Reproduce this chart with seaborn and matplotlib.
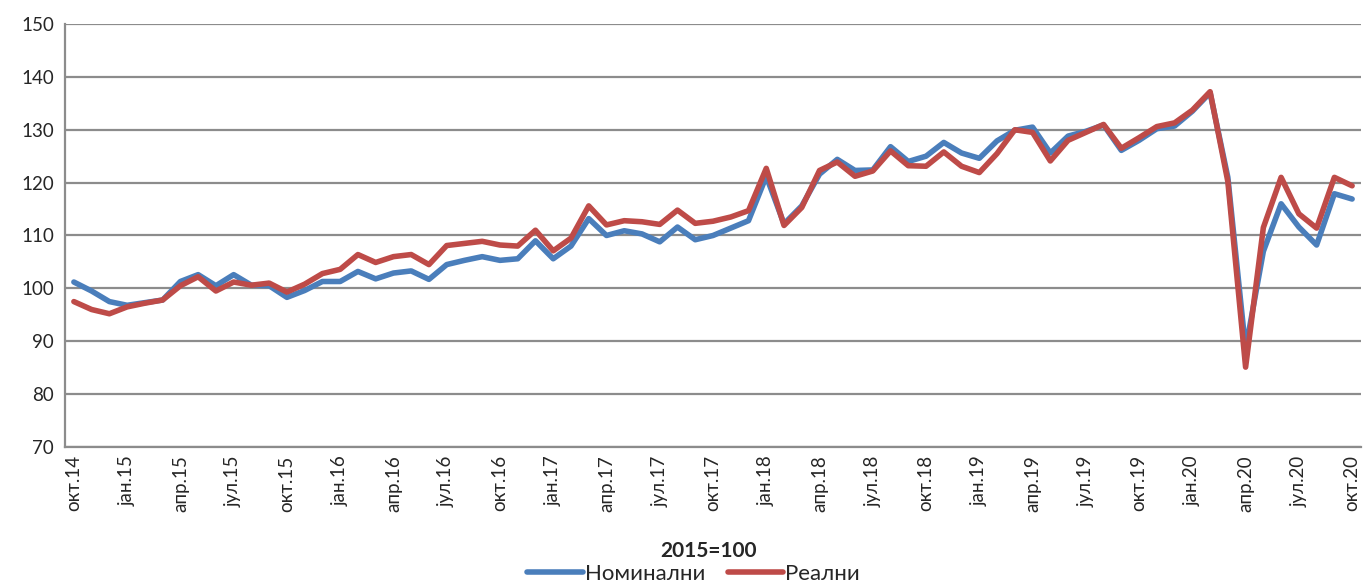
import numpy as np
import pandas as pd
import seaborn as sns
import matplotlib.pyplot as plt

# Податоци: месечни индекси, окт.2014 - окт.2020 (2015=100)
nominalni = [101.2, 99.5, 97.5, 96.8, 97.3, 97.8, 101.3, 102.6, 100.5, 102.6,
             100.6, 100.5, 98.3, 99.6, 101.3, 101.3, 103.2, 101.8, 102.9, 103.3,
             101.7, 104.5, 105.3, 106.0, 105.3, 105.6, 109.0, 105.6, 108.0, 113.2,
             110.0, 110.9, 110.3, 108.8, 111.6, 109.2, 110.0, 111.4, 112.8, 121.2,
             112.2, 115.6, 121.6, 124.4, 122.3, 122.4, 126.8, 124.0, 125.0, 127.6,
             125.6, 124.6, 127.9, 129.9, 130.5, 125.6, 128.8, 129.7, 130.9, 126.1,
             128.0, 130.2, 130.7, 133.5, 137.0, 121.0, 88.5, 107.0, 116.0, 111.6,
             108.2, 117.9, 116.9]
realni = [97.5, 96.0, 95.2, 96.5, 97.2, 97.8, 100.5, 102.2, 99.5, 101.2,
          100.6, 101.0, 99.3, 100.8, 102.8, 103.6, 106.4, 104.9, 106.0, 106.4,
          104.5, 108.1, 108.5, 108.9, 108.2, 108.0, 111.0, 107.1, 109.5, 115.6,
          112.0, 112.8, 112.6, 112.1, 114.8, 112.3, 112.7, 113.5, 114.7, 122.7,
          111.9, 115.3, 122.3, 123.9, 121.2, 122.2, 126.0, 123.2, 123.1, 125.8,
          123.1, 121.9, 125.5, 130.0, 129.5, 124.1, 128.0, 129.5, 131.0, 126.5,
          128.5, 130.6, 131.3, 133.7, 137.2, 120.2, 85.1, 111.5, 121.0, 114.1,
          111.4, 121.0, 119.4]
tick_labels = ['окт.14', 'јан.15', 'апр.15', 'јул.15', 'окт.15', 'јан.16', 'апр.16',
               'јул.16', 'окт.16', 'јан.17', 'апр.17', 'јул.17', 'окт.17', 'јан.18',
               'апр.18', 'јул.18', 'окт.18', 'јан.19', 'апр.19', 'јул.19', 'окт.19',
               'јан.20', 'апр.20', 'јул.20', 'окт.20']
serii = ['Номинални', 'Реални']
boi = ['#4A7EBB', '#BE4B48']

mesec = np.arange(len(nominalni))
df = pd.DataFrame({
    'mesec': np.concatenate([mesec, mesec]),
    'vrednost': nominalni + realni,
    'serija': [serii[0]] * len(nominalni) + [serii[1]] * len(realni),
})

sns.set_style('white')
plt.rcParams['font.family'] = ['Lato', 'DejaVu Sans']

fig = plt.figure(figsize=(13.63, 5.86), dpi=100)
ax = fig.add_axes([65 / 1363, 1 - 447 / 586, 1296 / 1363, 423 / 586])

sns.lineplot(data=df, x='mesec', y='vrednost', hue='serija', palette=boi,
             hue_order=serii, linewidth=4.0, ax=ax, legend=False)

ax.set_xlim(-0.5, len(nominalni) - 0.5)
ax.set_ylim(70, 150)
ax.set_yticks(range(70, 151, 10))
ax.yaxis.grid(True, color='#8C8C8C', linewidth=1.6)
ax.set_axisbelow(True)

ax.set_xticks(mesec[::3])
ax.set_xticklabels(tick_labels, rotation=90, fontsize=13.5)
ax.set_xticks(np.arange(-0.5, len(nominalni)), minor=True)
ax.tick_params(axis='x', which='major', length=0, pad=6)
ax.tick_params(axis='x', which='minor', length=5, width=1.2, color='#8C8C8C', direction='out')
ax.tick_params(axis='y', length=5, width=1.2, color='#8C8C8C', direction='out', labelsize=13.5, pad=3)
ax.set_xlabel('')
ax.set_ylabel('')

for s in ['top', 'right']:
    ax.spines[s].set_visible(False)
for s in ['left', 'bottom']:
    ax.spines[s].set_color('#8C8C8C')
    ax.spines[s].set_linewidth(1.6)

fig.text(0.52, 1 - 551 / 586, '2015=100', ha='center', va='center',
         fontsize=15, fontweight='bold')

rachki = [plt.Line2D([], [], color=c, linewidth=4.0) for c in boi]
fig.legend(rachki, serii, loc='center', bbox_to_anchor=(0.509, 1 - 574 / 586),
           ncol=2, frameon=False, fontsize=16, handlelength=2.5,
           handletextpad=0.1, columnspacing=1.0, borderpad=0)

fig.savefig('out.png', dpi=100)
